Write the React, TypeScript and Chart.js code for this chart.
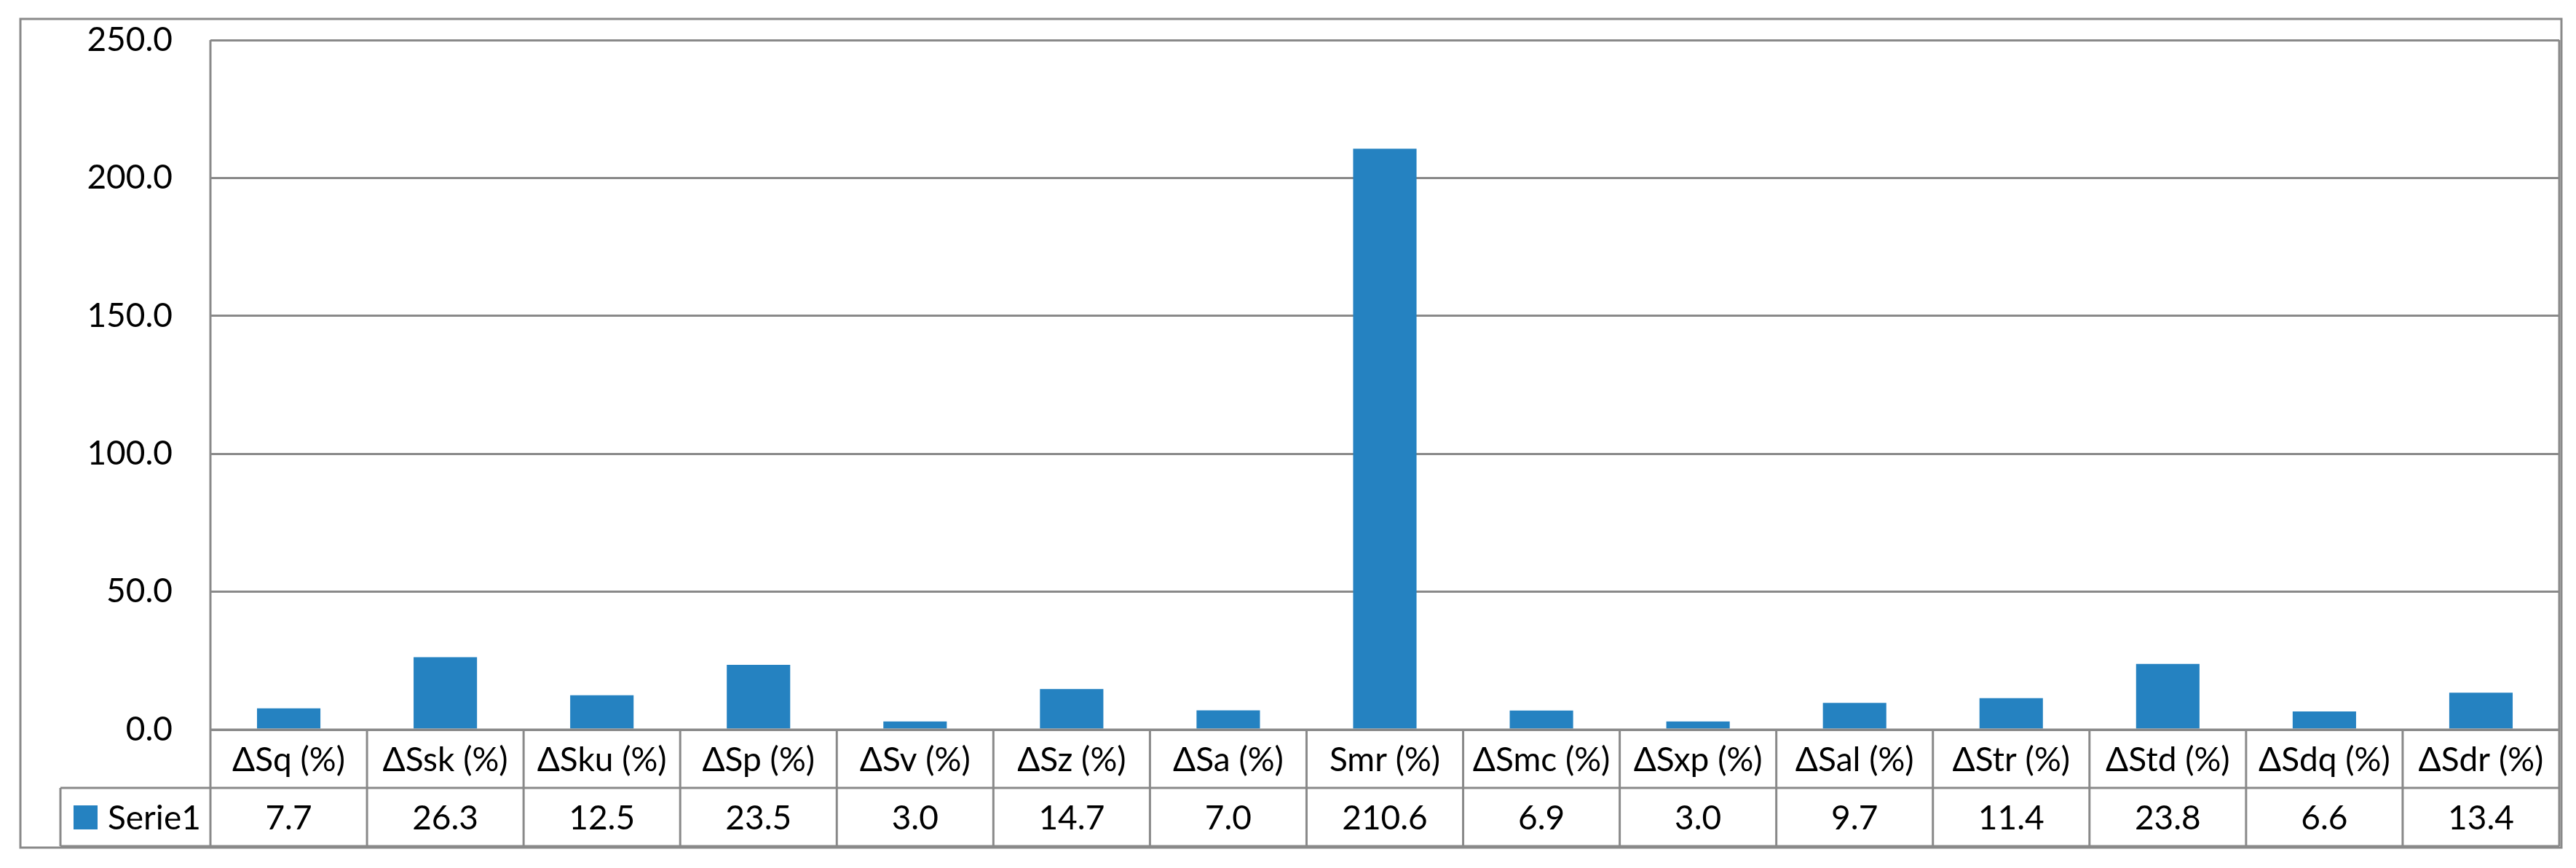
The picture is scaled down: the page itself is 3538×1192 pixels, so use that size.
import React, { useEffect, useRef } from "react";
import { Chart, registerables } from "chart.js";

Chart.register(...registerables);

const categories = [
  "ΔSq (%)", "ΔSsk (%)", "ΔSku (%)", "ΔSp (%)", "ΔSv (%)", "ΔSz (%)", "ΔSa (%)",
  "Smr (%)", "ΔSmc (%)", "ΔSxp (%)", "ΔSal (%)", "ΔStr (%)", "ΔStd (%)", "ΔSdq (%)", "ΔSdr (%)",
];
const seriesName = "Serie1";
const serie1 = [7.7, 26.3, 12.5, 23.5, 3.0, 14.7, 7.0, 210.6, 6.9, 3.0, 9.7, 11.4, 23.8, 6.6, 13.4];
const yTicks = [0, 50, 100, 150, 200, 250];

const W = 3538;
const H = 1192;
const GRID = "#898989";
const BAR = "#2582C1";
const FONT = "Lato";
const FS = 46;

const tablePlugin = {
  id: "dataTable",
  afterDraw(chart: any) {
    const ctx = chart.ctx;
    const xs = chart.scales.x;
    const { left, right, top, bottom } = chart.chartArea;
    const rowH = 80;
    const headerBottom = bottom + rowH;
    const dataBottom = headerBottom + rowH;
    const seriesLeft = left - 206;
    const n = categories.length;
    ctx.save();
    ctx.strokeStyle = GRID;
    ctx.lineWidth = 3;
    const line = (x1: number, y1: number, x2: number, y2: number) => {
      ctx.beginPath();
      ctx.moveTo(x1, y1);
      ctx.lineTo(x2, y2);
      ctx.stroke();
    };
    line(left, bottom, right, bottom);
    line(seriesLeft, headerBottom, right, headerBottom);
    line(seriesLeft, dataBottom, right, dataBottom);
    line(left, top, left, dataBottom);
    line(right, top, right, dataBottom);
    line(seriesLeft, headerBottom, seriesLeft, dataBottom);
    for (let i = 1; i < n; i++) {
      const xb = (xs.getPixelForValue(i - 1) + xs.getPixelForValue(i)) / 2;
      line(xb, bottom, xb, dataBottom);
    }
    // outer frame
    ctx.strokeRect(28, 26, 3490, 1138);

    ctx.fillStyle = "#000";
    ctx.font = `${FS}px ${FONT}`;
    ctx.textAlign = "center";
    ctx.textBaseline = "middle";
    const hy = (bottom + headerBottom) / 2;
    const dy = (headerBottom + dataBottom) / 2;
    categories.forEach((c, i) => {
      const cx = xs.getPixelForValue(i);
      ctx.fillText(c, cx, hy + 2);
      ctx.fillText(serie1[i].toFixed(1), cx, dy + 2);
    });
    // legend key
    ctx.fillStyle = BAR;
    ctx.fillRect(seriesLeft + 18, dy - 16, 33, 33);
    ctx.fillStyle = "#000";
    ctx.textAlign = "left";
    ctx.fillText(seriesName, seriesLeft + 65, dy + 2);
    ctx.restore();
  },
};

export default function App() {
  const ref = useRef<HTMLCanvasElement>(null);
  useEffect(() => {
    if (!ref.current) return;
    const chart = new Chart(ref.current, {
      type: "bar",
      data: {
        labels: categories,
        datasets: [
          {
            label: seriesName,
            data: serie1,
            backgroundColor: BAR,
            borderWidth: 0,
            categoryPercentage: 1,
            barPercentage: 0.405,
          },
        ],
      },
      options: {
        animation: false,
        responsive: false,
        devicePixelRatio: 1,
        layout: { padding: { left: 0, top: 55, right: 23, bottom: 190 } },
        plugins: { legend: { display: false }, tooltip: { enabled: false } },
        scales: {
          x: { display: false },
          y: {
            min: 0,
            max: 250,
            afterFit: (s: any) => {
              s.width = 289;
              s.paddingTop = 0;
              s.paddingBottom = 0;
            },
            afterBuildTicks: (s: any) => {
              s.ticks = yTicks.map((v) => ({ value: v }));
            },
            ticks: {
              stepSize: 50,
              padding: 52,
              color: "#000",
              font: { family: FONT, size: FS },
              callback: (v: any) => Number(v).toFixed(1),
            },
            grid: { color: GRID, lineWidth: 3, drawTicks: false },
            border: { display: false },
          },
        },
      },
      plugins: [tablePlugin],
    });
    return () => chart.destroy();
  }, []);
  return (
    <div style={{ position: "absolute", left: 0, top: 0, width: W, height: H, background: "#fff" }}>
      <canvas ref={ref} width={W} height={H} style={{ width: W, height: H, display: "block" }} />
    </div>
  );
}
